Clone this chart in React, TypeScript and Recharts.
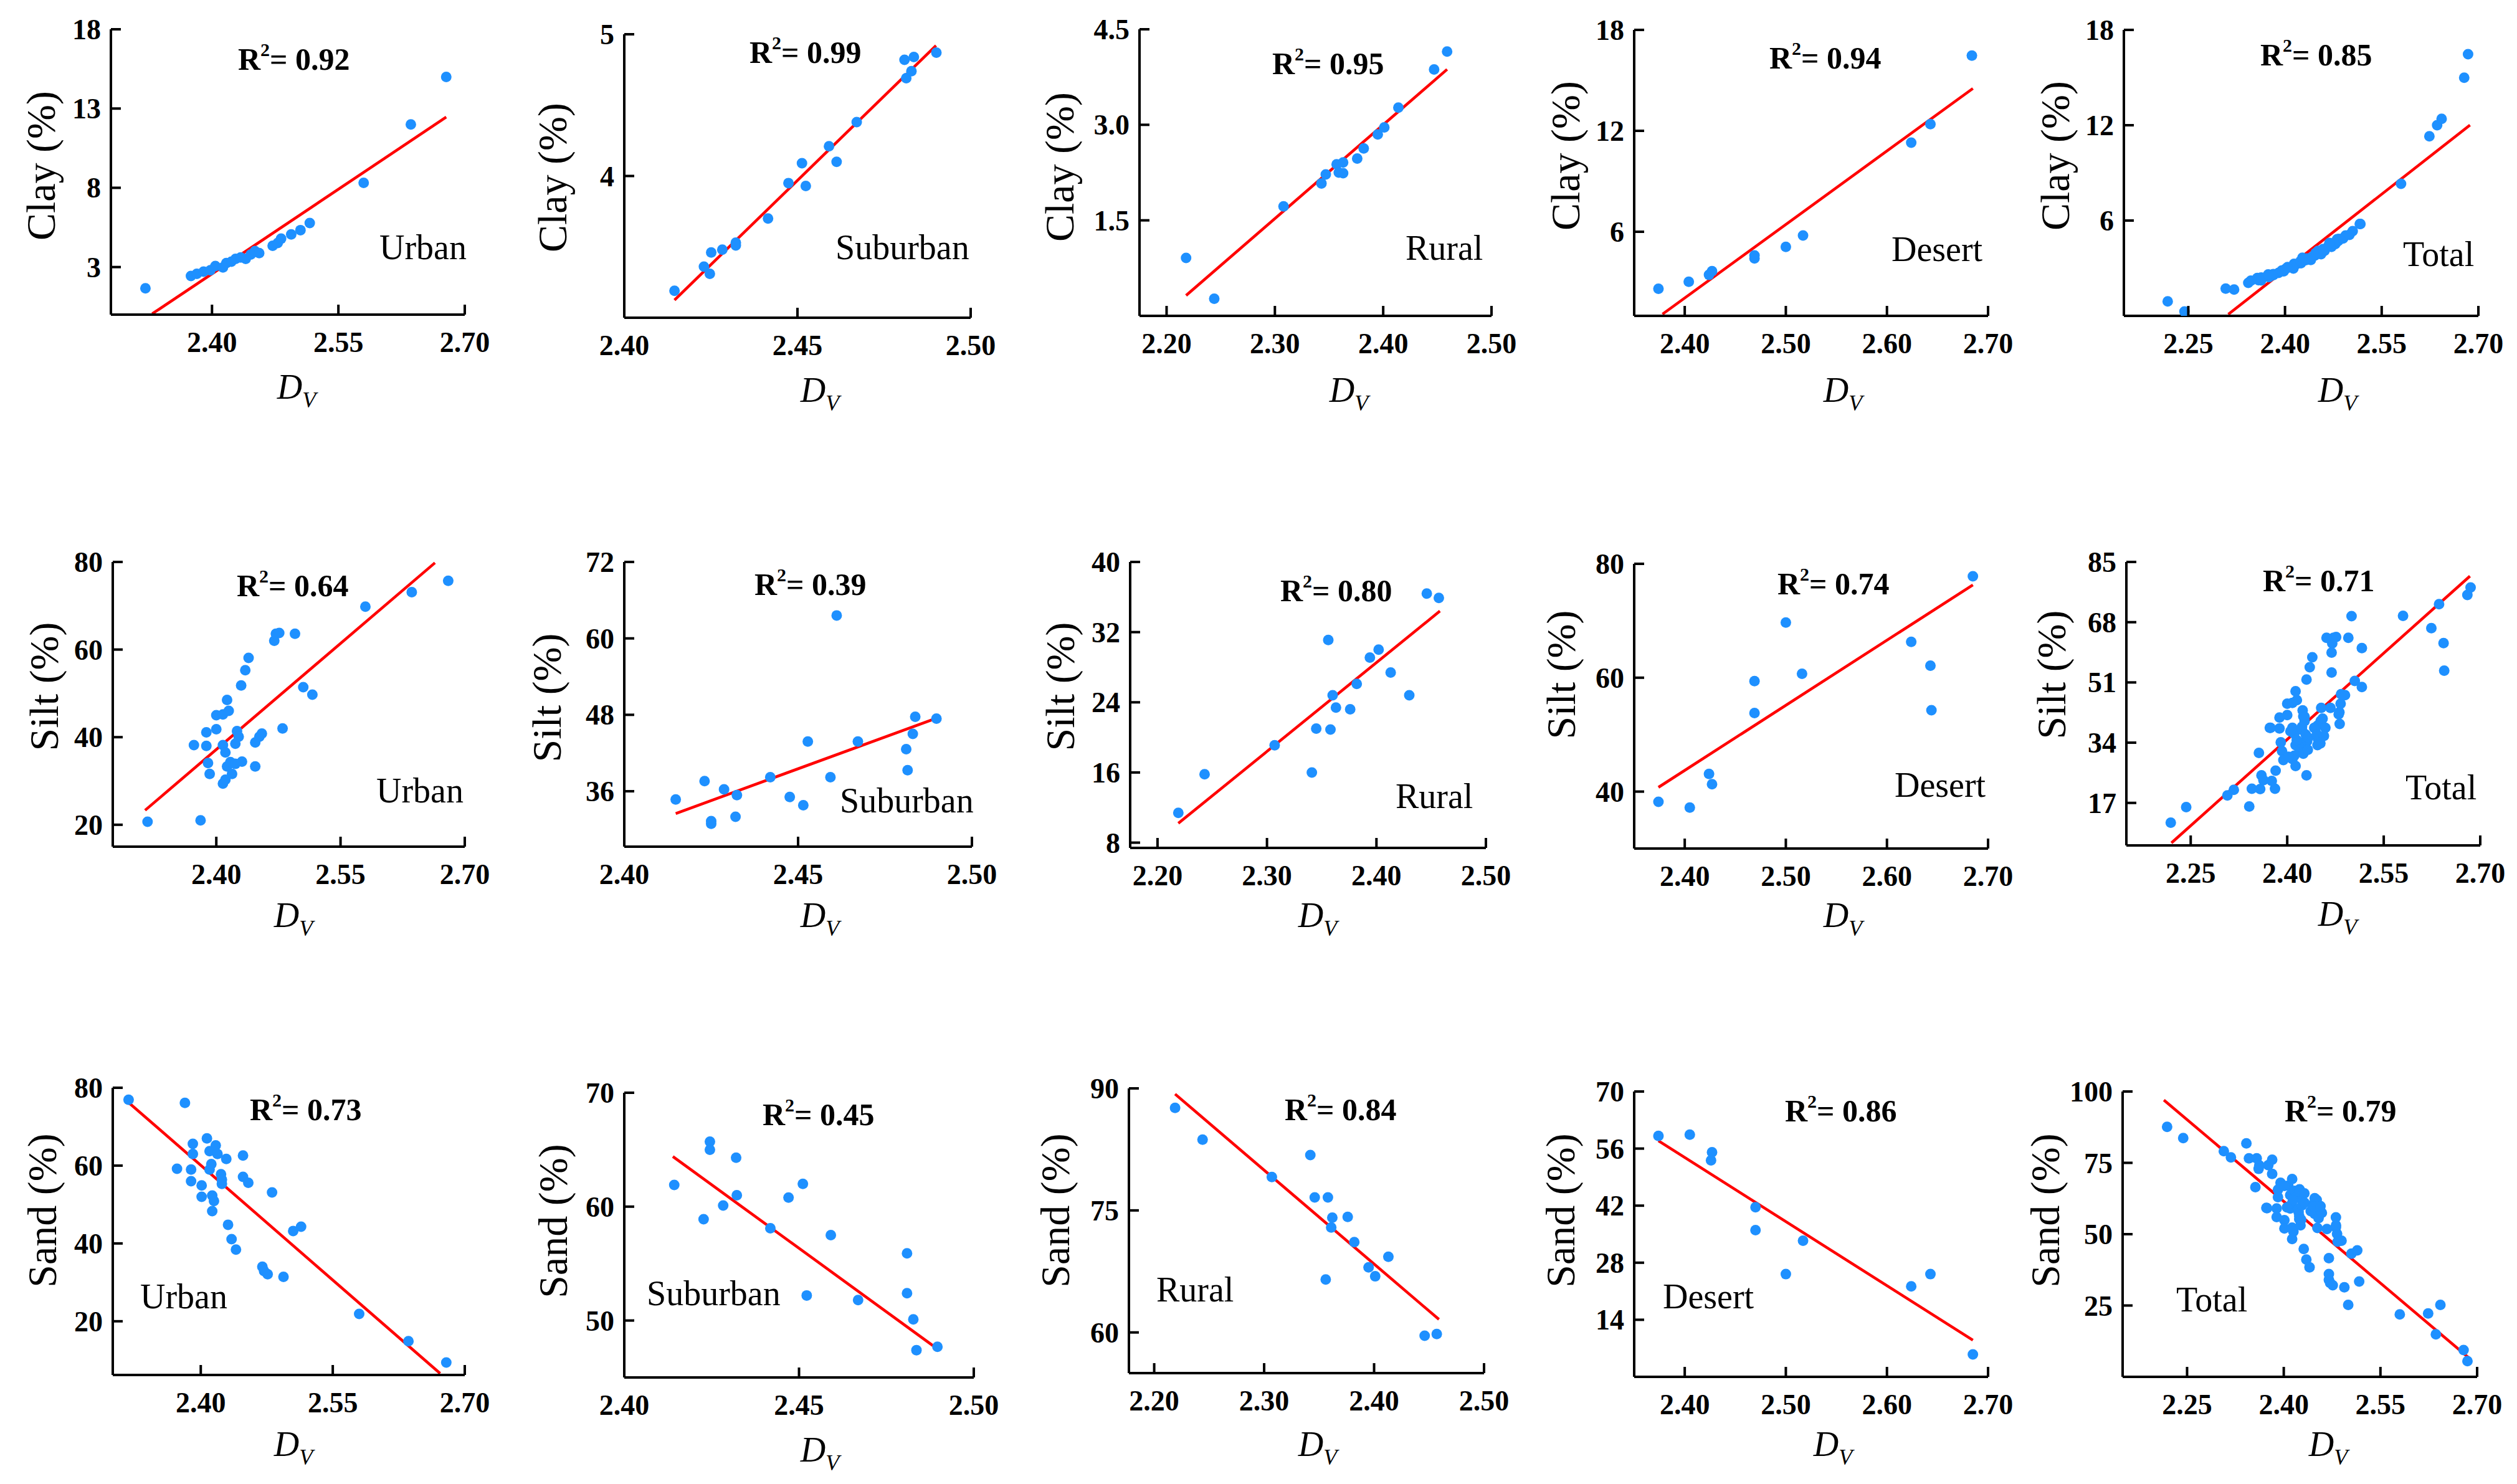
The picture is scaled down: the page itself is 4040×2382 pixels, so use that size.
import { ScatterChart, Scatter, XAxis, YAxis, ReferenceLine } from "recharts";

document.body.style.margin = "0";

const FONT = "'Liberation Serif', 'Times New Roman', serif";
const DOT = "#1E90FF";
const FIT = "#FF0000";

type Pt = [number, number];

// ---- categories & labels ----
const regions = ["Urban", "Suburban", "Rural", "Desert", "Total"];
const properties = ["Clay", "Silt", "Sand"];
const r2Clay = [0.92, 0.99, 0.95, 0.94, 0.85];
const r2Silt = [0.64, 0.39, 0.8, 0.74, 0.71];
const r2Sand = [0.73, 0.45, 0.84, 0.86, 0.79];

// ---- x ticks (D_V) per column ----
const xTicksUrban = [2.4, 2.55, 2.7];
const xTicksSuburban = [2.4, 2.45, 2.5];
const xTicksRural = [2.2, 2.3, 2.4, 2.5];
const xTicksDesert = [2.4, 2.5, 2.6, 2.7];
const xTicksTotal = [2.25, 2.4, 2.55, 2.7];

// ---- y ticks ----
const yTicksClay = [[3, 8, 13, 18], [4, 5], [1.5, 3, 4.5], [6, 12, 18], [6, 12, 18]];
const yTicksSilt = [[20, 40, 60, 80], [36, 48, 60, 72], [8, 16, 24, 32, 40], [40, 60, 80], [17, 34, 51, 68, 85]];
const yTicksSand = [[20, 40, 60, 80], [50, 60, 70], [60, 75, 90], [14, 28, 42, 56, 70], [25, 50, 75, 100]];

// ---- clay (%) vs D_V ----
const urbanClay: Pt[] = [
  [2.321, 1.66], [2.375, 2.44], [2.382, 2.57], [2.39, 2.71], [2.398, 2.8], [2.404, 3.07],
  [2.413, 2.98], [2.417, 3.25], [2.423, 3.34], [2.428, 3.52], [2.434, 3.61], [2.44, 3.52],
  [2.446, 3.79], [2.451, 4.01], [2.456, 3.88], [2.472, 4.34], [2.478, 4.52], [2.482, 4.79],
  [2.494, 5.06], [2.505, 5.33], [2.516, 5.78], [2.58, 8.31], [2.636, 12.0], [2.678, 14.99],
];
const suburbanClay: Pt[] = [
  [2.4145, 3.19], [2.423, 3.36], [2.4247, 3.31], [2.4251, 3.46], [2.4283, 3.48], [2.4322, 3.53],
  [2.4322, 3.51], [2.4415, 3.7], [2.4474, 3.95], [2.4513, 4.09], [2.4524, 3.93], [2.4591, 4.21],
  [2.4613, 4.1], [2.4671, 4.38], [2.4814, 4.69], [2.4829, 4.74], [2.4809, 4.82], [2.4836, 4.84],
  [2.4901, 4.87],
];
const ruralClay: Pt[] = [
  [2.218, 0.91], [2.244, 0.27], [2.308, 1.72], [2.343, 2.08], [2.347, 2.22], [2.357, 2.38],
  [2.359, 2.25], [2.363, 2.24], [2.363, 2.41], [2.376, 2.47], [2.382, 2.63], [2.395, 2.85],
  [2.401, 2.96], [2.414, 3.27], [2.447, 3.87], [2.459, 4.15],
];
const desertClay: Pt[] = [
  [2.374, 2.61], [2.404, 3.03], [2.424, 3.44], [2.427, 3.66], [2.469, 4.42], [2.469, 4.59],
  [2.5, 5.1], [2.517, 5.78], [2.624, 11.3], [2.643, 12.4], [2.684, 16.47],
];

// ---- silt (%) vs D_V ----
const urbanSilt: Pt[] = [
  [2.317, 20.7], [2.381, 21.0], [2.373, 38.2], [2.388, 38.0], [2.388, 41.1], [2.4, 41.8],
  [2.4, 45.0], [2.408, 45.2], [2.413, 48.5], [2.415, 46.0], [2.39, 34.1], [2.392, 31.6],
  [2.408, 29.4], [2.411, 30.3], [2.413, 33.3], [2.417, 34.3], [2.419, 31.6], [2.423, 33.9],
  [2.425, 41.4], [2.423, 38.5], [2.427, 40.1], [2.431, 34.4], [2.408, 38.2], [2.411, 36.5],
  [2.43, 51.8], [2.435, 55.3], [2.439, 58.1], [2.447, 33.3], [2.447, 38.8], [2.452, 40.1],
  [2.455, 40.8], [2.47, 62.0], [2.472, 63.6], [2.476, 63.8], [2.495, 63.6], [2.48, 42.0],
  [2.505, 51.4], [2.516, 49.7], [2.58, 69.8], [2.636, 73.1], [2.68, 75.7],
];
const suburbanSilt: Pt[] = [
  [2.4148, 34.7], [2.4231, 37.6], [2.425, 31.3], [2.425, 30.9], [2.4287, 36.3], [2.4324, 35.4],
  [2.432, 32.0], [2.442, 38.2], [2.4476, 35.1], [2.4515, 33.8], [2.4528, 43.8], [2.4593, 38.2],
  [2.4611, 63.6], [2.4672, 43.8], [2.4811, 42.6], [2.4815, 39.3], [2.483, 45.0], [2.4837, 47.7],
  [2.4898, 47.4],
];
const ruralSilt: Pt[] = [
  [2.219, 11.4], [2.243, 15.8], [2.307, 19.1], [2.341, 16.0], [2.345, 21.0], [2.356, 31.1],
  [2.358, 20.9], [2.36, 24.8], [2.363, 23.4], [2.376, 23.2], [2.382, 26.1], [2.394, 29.1],
  [2.402, 30.0], [2.413, 27.4], [2.43, 24.8], [2.446, 36.4], [2.457, 35.9],
];
const desertSilt: Pt[] = [
  [2.374, 38.2], [2.405, 37.2], [2.424, 43.1], [2.427, 41.3], [2.469, 59.4], [2.469, 53.8],
  [2.5, 69.7], [2.516, 60.7], [2.624, 66.3], [2.643, 62.1], [2.644, 54.3], [2.685, 77.8],
];

// ---- sand (%) vs D_V ----
const urbanSand: Pt[] = [
  [2.318, 76.9], [2.382, 76.1], [2.373, 59.2], [2.389, 59.0], [2.389, 56.0], [2.391, 65.6],
  [2.391, 63.0], [2.401, 54.9], [2.401, 52.0], [2.407, 67.0], [2.41, 59.0], [2.41, 63.7],
  [2.412, 60.4], [2.413, 52.3], [2.413, 48.3], [2.415, 50.9], [2.417, 65.2], [2.419, 63.0],
  [2.423, 57.8], [2.424, 55.3], [2.424, 56.4], [2.429, 61.7], [2.431, 44.8], [2.435, 41.1],
  [2.44, 38.4], [2.448, 62.6], [2.448, 57.1], [2.454, 55.6], [2.47, 34.0], [2.472, 32.9],
  [2.476, 32.1], [2.481, 53.1], [2.494, 31.4], [2.505, 43.2], [2.514, 44.3], [2.58, 21.9],
  [2.636, 14.9], [2.679, 9.4],
];
const suburbanSand: Pt[] = [
  [2.4143, 61.9], [2.4227, 58.9], [2.4245, 65.7], [2.4245, 65.0], [2.4283, 60.1], [2.432, 64.3],
  [2.4322, 61.0], [2.4418, 58.1], [2.447, 60.8], [2.4511, 62.0], [2.4522, 52.2], [2.4591, 57.5],
  [2.4669, 51.8], [2.4809, 55.9], [2.4809, 52.4], [2.4827, 50.1], [2.4836, 47.4], [2.4896, 47.7],
];
const ruralSand: Pt[] = [
  [2.219, 87.6], [2.244, 83.7], [2.307, 79.1], [2.342, 81.8], [2.346, 76.6], [2.358, 76.6],
  [2.356, 66.5], [2.362, 74.1], [2.361, 72.9], [2.376, 74.2], [2.382, 71.1], [2.395, 68.0],
  [2.401, 66.9], [2.413, 69.3], [2.446, 59.6], [2.457, 59.8],
];
const desertSand: Pt[] = [
  [2.374, 59.1], [2.405, 59.4], [2.426, 53.1], [2.427, 55.1], [2.47, 41.6], [2.47, 36.0],
  [2.5, 25.2], [2.517, 33.4], [2.624, 22.2], [2.643, 25.2], [2.685, 5.5],
];

// Total = all four site types together
const totalClay: Pt[] = [...urbanClay, ...suburbanClay, ...ruralClay, ...desertClay];
const totalSilt: Pt[] = [...urbanSilt, ...suburbanSilt, ...ruralSilt, ...desertSilt];
const totalSand: Pt[] = [...urbanSand, ...suburbanSand, ...ruralSand, ...desertSand];

// ---- fitted lines, end points ----
const fitClay: Pt[][] = [
  [[2.329, 0.05], [2.678, 12.46]],
  [[2.4145, 3.125], [2.49, 4.92]],
  [[2.218, 0.32], [2.459, 3.87]],
  [[2.378, 1.1], [2.685, 14.52]],
  [[2.312, 0.1], [2.687, 12.01]],
];
const fitSilt: Pt[][] = [
  [[2.314, 23.3], [2.664, 79.8]],
  [[2.4148, 32.5], [2.4889, 47.3]],
  [[2.219, 10.2], [2.458, 34.4]],
  [[2.374, 40.75], [2.685, 76.3]],
  [[2.22, 5.7], [2.684, 81.0]],
];
const fitSand: Pt[][] = [
  [[2.318, 76.2], [2.672, 6.6]],
  [[2.4139, 64.4], [2.4883, 47.8]],
  [[2.219, 89.3], [2.459, 61.6]],
  [[2.374, 57.9], [2.685, 9.0]],
  [[2.214, 97], [2.688, 6.5]],
];

const seriesByRow = [
  [urbanClay, suburbanClay, ruralClay, desertClay, totalClay],
  [urbanSilt, suburbanSilt, ruralSilt, desertSilt, totalSilt],
  [urbanSand, suburbanSand, ruralSand, desertSand, totalSand],
];
const fitsByRow = [fitClay, fitSilt, fitSand];
const r2ByRow = [r2Clay, r2Silt, r2Sand];
const yTicksByRow = [yTicksClay, yTicksSilt, yTicksSand];
const xTicksByCol = [xTicksUrban, xTicksSuburban, xTicksRural, xTicksDesert, xTicksTotal];

// ---- layout (pixels on the 4040x2382 page) ----
type Layout = {
  plot: [number, number, number, number]; // left, right, top, bottom
  xDom: [number, number];
  yDom: [number, number];
  r2: [number, number];
  region: [number, number];
  dv: [number, number];
  yTitle: [number, number];
};

const layout: Layout[][] = [
  [
    { plot: [178, 746, 47, 505], xDom: [2.28, 2.7], yDom: [0, 18], r2: [382, 112], region: [609, 416], dv: [476, 640], yTitle: [65, 266] },
    { plot: [1002, 1558, 55, 510], xDom: [2.4, 2.5], yDom: [3, 5], r2: [1203, 101], region: [1341, 416], dv: [1316, 645], yTitle: [886, 285] },
    { plot: [1829, 2394, 47, 507], xDom: [2.175, 2.5], yDom: [0, 4.5], r2: [2042, 119], region: [2256, 417], dv: [2165, 645], yTitle: [1700, 268] },
    { plot: [2623, 3191, 48, 507], xDom: [2.35, 2.7], yDom: [1, 18], r2: [2840, 110], region: [3036, 419], dv: [2958, 645], yTitle: [2512, 250] },
    { plot: [3409, 3978, 48, 507], xDom: [2.15, 2.7], yDom: [0, 18], r2: [3628, 105], region: [3857, 427], dv: [3752, 645], yTitle: [3298, 250] },
  ],
  [
    { plot: [181, 746, 902, 1359], xDom: [2.275, 2.7], yDom: [15, 80], r2: [380, 957], region: [604, 1288], dv: [471, 1488], yTitle: [70, 1102] },
    { plot: [1002, 1560, 902, 1359], xDom: [2.4, 2.5], yDom: [27.3, 72], r2: [1211, 955], region: [1348, 1304], dv: [1316, 1488], yTitle: [877, 1120] },
    { plot: [1814, 2385, 902, 1361], xDom: [2.175, 2.5], yDom: [7.4, 40], r2: [2055, 965], region: [2240, 1297], dv: [2115, 1488], yTitle: [1701, 1102] },
    { plot: [2623, 3191, 905, 1362], xDom: [2.35, 2.7], yDom: [30, 80], r2: [2853, 954], region: [3041, 1279], dv: [2958, 1488], yTitle: [2505, 1083] },
    { plot: [3413, 3981, 902, 1357], xDom: [2.15, 2.7], yDom: [5, 85], r2: [3632, 949], region: [3861, 1283], dv: [3752, 1486], yTitle: [3292, 1083] },
  ],
  [
    { plot: [181, 746, 1746, 2207], xDom: [2.3, 2.7], yDom: [6.2, 80], r2: [401, 1798], region: [225, 2100], dv: [471, 2337], yTitle: [67, 1943] },
    { plot: [1002, 1563, 1754, 2211], xDom: [2.4, 2.5], yDom: [45, 70], r2: [1224, 1806], region: [1038, 2095], dv: [1316, 2346], yTitle: [887, 1960] },
    { plot: [1812, 2382, 1747, 2204], xDom: [2.177, 2.5], yDom: [55, 90], r2: [2062, 1798], region: [1856, 2089], dv: [2115, 2337], yTitle: [1693, 1943] },
    { plot: [2623, 3191, 1752, 2210], xDom: [2.35, 2.7], yDom: [0, 70], r2: [2865, 1800], region: [2669, 2100], dv: [2942, 2337], yTitle: [2504, 1943] },
    { plot: [3407, 3976, 1752, 2210], xDom: [2.15, 2.7], yDom: [0, 100], r2: [3667, 1800], region: [3493, 2105], dv: [3737, 2337], yTitle: [3282, 1943] },
  ],
];

const AXIS_W = 150;
const PAD_T = 50;
const PAD_R = 60;
const TICK = 16;

const XTick = (props: any) => {
  const { x, y, payload } = props;
  return (
    <g>
      <line x1={x} x2={x} y1={y} y2={y - TICK} stroke="#000" strokeWidth={4} />
      <text x={x} y={y + 60} textAnchor="middle" fontFamily={FONT} fontWeight="bold" fontSize={46} fill="#000">
        {Number(payload.value).toFixed(2)}
      </text>
    </g>
  );
};

const makeYTick = (decimals: number) => (props: any) => {
  const { x, y, payload } = props;
  return (
    <g>
      <line x1={x} x2={x + TICK} y1={y} y2={y} stroke="#000" strokeWidth={4} />
      <text x={x - 16} y={y + 16} textAnchor="end" fontFamily={FONT} fontWeight="bold" fontSize={46} fill="#000">
        {Number(payload.value).toFixed(decimals)}
      </text>
    </g>
  );
};

const Dot = (props: any) => <circle cx={props.cx} cy={props.cy} r={8.5} fill={DOT} />;

function Panel({ row, col }: { row: number; col: number }) {
  const lay = layout[row][col];
  const [l, r, t, b] = lay.plot;
  const data = seriesByRow[row][col].map(([x, y]) => ({ x, y }));
  const fit = fitsByRow[row][col];
  const yTicks = yTicksByRow[row][col];
  const decimals = yTicks.some((v) => !Number.isInteger(v)) ? 1 : 0;
  const width = r - l + AXIS_W + PAD_R;
  const height = b - t + AXIS_W + PAD_T;
  return (
    <div style={{ position: "absolute", left: l - AXIS_W, top: t - PAD_T }}>
      <ScatterChart width={width} height={height} margin={{ top: PAD_T, right: PAD_R, bottom: 0, left: 0 }}>
        <XAxis
          type="number"
          dataKey="x"
          domain={lay.xDom}
          allowDataOverflow
          ticks={xTicksByCol[col]}
          interval={0}
          height={AXIS_W}
          tickSize={0}
          tickMargin={0}
          tick={<XTick />}
          axisLine={{ stroke: "#000", strokeWidth: 4 }}
        />
        <YAxis
          type="number"
          dataKey="y"
          domain={lay.yDom}
          allowDataOverflow
          ticks={yTicks}
          interval={0}
          width={AXIS_W}
          tickSize={0}
          tickMargin={0}
          tick={makeYTick(decimals)}
          axisLine={{ stroke: "#000", strokeWidth: 4 }}
        />
        <Scatter data={data} shape={<Dot />} isAnimationActive={false} />
        <ReferenceLine
          segment={[{ x: fit[0][0], y: fit[0][1] }, { x: fit[1][0], y: fit[1][1] }]}
          stroke={FIT}
          strokeWidth={4.5}
          ifOverflow="visible"
        />
      </ScatterChart>
    </div>
  );
}

function Labels() {
  const items: any[] = [];
  layout.forEach((rowLay, row) =>
    rowLay.forEach((lay, col) => {
      const key = `${row}-${col}`;
      items.push(
        <text key={`r2-${key}`} x={lay.r2[0]} y={lay.r2[1]} fontFamily={FONT} fontWeight="bold" fontSize={50} fill="#000">
          R<tspan fontSize={30} dy={-22}>2</tspan>
          <tspan dy={22}>= {r2ByRow[row][col].toFixed(2)}</tspan>
        </text>,
        <text key={`rg-${key}`} x={lay.region[0]} y={lay.region[1]} fontFamily={FONT} fontSize={56} fill="#000">
          {regions[col]}
        </text>,
        <text key={`dv-${key}`} x={lay.dv[0]} y={lay.dv[1]} textAnchor="middle" fontFamily={FONT} fontStyle="italic" fontSize={56} fill="#000">
          D<tspan fontSize={36} dy={14}>V</tspan>
        </text>,
        <text
          key={`yt-${key}`}
          x={lay.yTitle[0]}
          y={lay.yTitle[1]}
          transform={`rotate(-90 ${lay.yTitle[0]} ${lay.yTitle[1]})`}
          textAnchor="middle"
          dominantBaseline="central"
          fontFamily={FONT}
          fontSize={66}
          fill="#000"
        >
          {properties[row]} (%)
        </text>
      );
    })
  );
  return (
    <svg width={4040} height={2382} style={{ position: "absolute", left: 0, top: 0, pointerEvents: "none" }}>
      {items}
    </svg>
  );
}

export default function App() {
  return (
    <div style={{ position: "relative", width: 4040, height: 2382, background: "#fff", overflow: "hidden" }}>
      {[0, 1, 2].map((row) => [0, 1, 2, 3, 4].map((col) => <Panel key={`${row}-${col}`} row={row} col={col} />))}
      <Labels />
    </div>
  );
}
